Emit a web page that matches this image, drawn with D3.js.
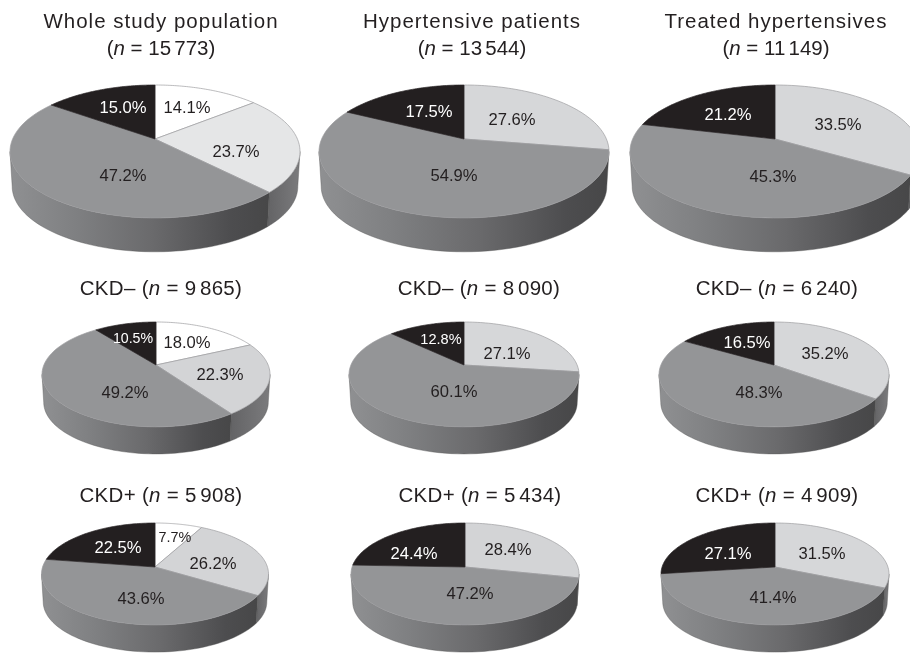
<!DOCTYPE html>
<html><head><meta charset="utf-8">
<style>html,body{margin:0;padding:0;background:#fff}svg{display:block;filter:blur(0.35px)}text{font-family:"Liberation Sans",Arial,sans-serif}</style>
<script src="https://cdn.jsdelivr.net/npm/d3@7"></script></head><body>
<svg id="c" width="910" height="655"></svg>
<script>
// ---- data ----
const titleLine1 = ["Whole study population","Hypertensive patients","Treated hypertensives","CKD–","CKD–","CKD–","CKD+","CKD+","CKD+"];
const sampleSizes = ["15 773","13 544","11 149","9 865","8 090","6 240","5 908","5 434","4 909"];
const whiteShare = [14.1,0,0,18.0,0,0,7.7,0,0];
const lightShare = [23.7,27.6,33.5,22.3,27.1,35.2,26.2,28.4,31.5];
const grayShare  = [47.2,54.9,45.3,49.2,60.1,48.3,43.6,47.2,41.4];
const blackShare = [15.0,17.5,21.2,10.5,12.8,16.5,22.5,24.4,27.1];

// ---- layout ----
const apexX = [155,464,775,156,464,774,155,465,775];
const apexY = [139,139,139,365,365,365,567,567,567];
const halfW = [145,145,145,114,115,115,113.5,114,114];
const up    = [54,54,54,43,43,43,44,44,44];
const tilt  = [0.188,0.188,0.188,0.18,0.18,0.18,0.137,0.137,0.137];
const depth = [35,35,35,28,28,28,28,28,28];
const titleX = [161,472,776,161,479,777,161,480,777];
const titleBase = [28,28,28,295,295,295,502,502,502];
const titleTwoLine = [1,1,1,0,0,0,0,0,0];
const lightFill = ["#e5e6e7","#d6d7d9","#d6d7d9","#d3d4d6","#d6d7d9","#d6d7d9","#d3d4d6","#d3d4d6","#d6d7d9"];
const labelSize = [[16.6,16.6,16.6,16.6],[16.6,16.6,16.6,16.6],[16.6,16.6,16.6,16.6],
                   [16.6,16.6,16.6,14.2],[16.6,16.6,16.6,14.6],[16.6,16.6,16.6,16.6],
                   [14.4,16.6,16.6,16.6],[16.6,16.6,16.6,16.6],[16.6,16.6,16.6,16.6]];
const labelOffsets = [
 [[32,-32],[81,12],[-32,36],[-32,-32]],
 [null,[48,-20],[-10,36],[-35,-28]],
 [null,[63,-15],[-2,37],[-47,-25]],
 [[31,-23],[64,9],[-31,27],[-23,-27]],
 [null,[43,-12],[-10,26],[-23,-26]],
 [null,[51,-12],[-15,27],[-27,-23]],
 [[20,-30],[58,-4],[-14,31],[-37,-20]],
 [null,[43,-18],[5,26],[-51,-14]],
 [null,[47,-14],[-2,30],[-47,-14]]
];
const bottomShrink = 0.985;
const ink = "#231f20";
const sliceFill = i => ["#ffffff", null, "#949597", "#231f20"][i];

const svg = d3.select("#c");
const defs = svg.append("defs");
const g1 = defs.append("linearGradient").attr("id","wallGray");
[[0,"#8f9092"],[0.25,"#7f8082"],[0.55,"#6a6a6c"],[0.85,"#4d4d4f"],[1,"#474748"]].forEach(s=>g1.append("stop").attr("offset",s[0]).attr("stop-color",s[1]));
const g2 = defs.append("linearGradient").attr("id","wallLight");
[[0,"#636365"],[1,"#7b7b7d"]].forEach(s=>g2.append("stop").attr("offset",s[0]).attr("stop-color",s[1]));

const pieGen = d3.pie().sort(null).value(d=>d).startAngle(0).endAngle(2*Math.PI);
const line = d3.line();

sampleSizes.forEach((n,p)=>{
  const k = tilt[p];
  const visFrom = Math.acos(-k), visTo = 2*Math.PI - visFrom;
  const sx = d3.scaleLinear().domain([-1,1]).range([-halfW[p]*Math.sqrt(1-k*k), halfW[p]*Math.sqrt(1-k*k)]);
  const sy = d3.scaleLinear().domain([-1,1]).range([up[p]*(1+k), -up[p]*(1+k)]);
  const proj = (a,r=1)=>{
    const x=r*Math.sin(a), y=r*Math.cos(a), w=1+k*y;
    return [apexX[p]+sx(x/w), apexY[p]+sy(y/w)];
  };
  const low = a=>{ const q=proj(a); return [apexX[p]+(q[0]-apexX[p])*bottomShrink, apexY[p]+(q[1]-apexY[p])*bottomShrink+depth[p]]; };
  const arcs = pieGen([whiteShare[p],lightShare[p],grayShare[p],blackShare[p]]);
  const g = svg.append("g");
  const sample = (a0,a1)=>d3.range(0,61).map(i=>a0+(a1-a0)*i/60);

  // side wall
  arcs.forEach((d,i)=>{
    const a0=Math.max(d.startAngle,visFrom), a1=Math.min(d.endAngle,visTo);
    if(a1<=a0) return;
    const as=sample(a0,a1);
    const pts=as.map(a=>proj(a)).concat(as.slice().reverse().map(low));
    g.append("path").attr("d",line(pts)+"Z")
      .attr("fill", i===2?"url(#wallGray)": i===1?"url(#wallLight)":"#2a2a2a")
      .attr("stroke","#555557").attr("stroke-width",0.4);
  });
  // top surface
  arcs.forEach((d,i)=>{
    if(d.endAngle-d.startAngle<=0) return;
    const pts=[[apexX[p],apexY[p]]].concat(sample(d.startAngle,d.endAngle).map(a=>proj(a)));
    g.append("path").attr("d",line(pts)+"Z")
      .attr("fill", i===1?lightFill[p]:sliceFill(i))
      .attr("stroke", i===3?"#2b2728":"#9d9ea0").attr("stroke-width",0.7).attr("stroke-linejoin","round");
  });
  // labels
  arcs.forEach((d,i)=>{
    const off=labelOffsets[p][i];
    if(!off) return;
    g.append("text").attr("x",apexX[p]+off[0]).attr("y",apexY[p]+off[1])
      .attr("dy","0.36em").attr("text-anchor","middle")
      .attr("font-size",labelSize[p][i]).attr("fill",i===3?"#ffffff":ink)
      .text(d3.format(".1f")(d.value)+"%");
  });
  // titles
  const fs=20.5;
  const addN=(t)=>{
    t.append("tspan").text("(");
    t.append("tspan").attr("font-style","italic").text("n");
    t.append("tspan").text(" = ");
    t.append("tspan").attr("style","word-spacing:-2.5px").text(n);
    t.append("tspan").text(")");
  };
  if(titleTwoLine[p]){
    svg.append("text").attr("x",titleX[p]).attr("y",titleBase[p]).attr("text-anchor","middle")
      .attr("font-size",fs).attr("letter-spacing",1).attr("fill",ink).text(titleLine1[p]);
    addN(svg.append("text").attr("x",titleX[p]).attr("y",titleBase[p]+27).attr("text-anchor","middle")
      .attr("font-size",fs).attr("fill",ink));
  } else {
    const t=svg.append("text").attr("x",titleX[p]).attr("y",titleBase[p]).attr("text-anchor","middle")
      .attr("font-size",fs).attr("letter-spacing",0.3).attr("fill",ink);
    t.append("tspan").text(titleLine1[p]+" ");
    addN(t);
  }
});
</script></body></html>
